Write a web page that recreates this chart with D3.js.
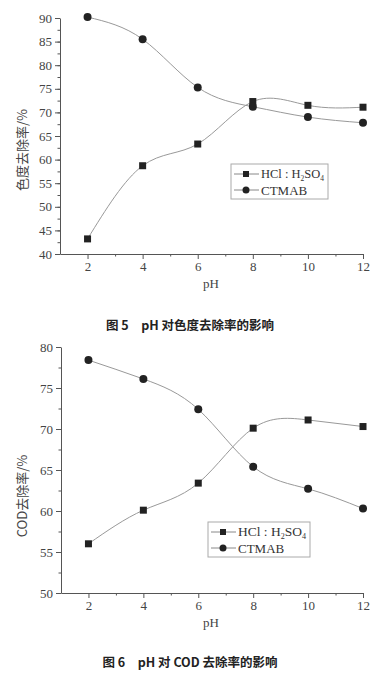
<!DOCTYPE html>
<html>
<head>
<meta charset="utf-8">
<script src="https://cdn.jsdelivr.net/npm/d3@7"></script>
<style>
	body { margin: 0; background: #fff; }
	svg { display: block; }
	.domain, .tick line { stroke: #555; }
</style>
</head>
<body>
<svg id="chart" width="388" height="677"></svg>
<script>
// values
const phValues = [2, 4, 6, 8, 10, 12];
const colorHcl = [43.2, 58.7, 63.3, 72.3, 71.5, 71.1];
const colorCtmab = [90.2, 85.5, 75.3, 71.2, 69.0, 67.8];
const codHcl = [56.0, 60.1, 63.4, 70.1, 71.1, 70.3];
const codCtmab = [78.4, 76.1, 72.4, 65.4, 62.7, 60.3];
const xTicks = [2, 4, 6, 8, 10, 12];
const colorTicks = [40, 45, 50, 55, 60, 65, 70, 75, 80, 85, 90];
const codTicks = [50, 55, 60, 65, 70, 75, 80];

const svg = d3.select("#chart");
const serif = '"Liberation Serif", serif';
const cjk = '"Noto Sans CJK SC", sans-serif';

/////////////////////////////////////////////////////////
/////////////////-----PANEL-----/////////////////////////
/////////////////////////////////////////////////////////
function styleTicks(sel) {
	sel.attr('font-family', serif).attr('font-size', 13);
	sel.selectAll('text').attr('fill', '#444');
}

function drawPanel(p) {
	let g = svg.append('g');
	let x = d3.scaleLinear().domain([1, 12]).range([p.left, 363]);
	let y = d3.scaleLinear().domain(p.yDomain).range([p.bottom, p.top]);

	// minor ticks
	let minorY = d3.range(p.yDomain[0], p.yDomain[1], 2.5);
	g.append('g').attr('transform', 'translate(' + p.left + ',0)')
	.call(d3.axisLeft(y).tickValues(minorY).tickSize(2.5).tickFormat(''))
	.select('.domain').remove();
	g.append('g').attr('transform', 'translate(0,' + p.bottom + ')')
	.call(d3.axisBottom(x).tickValues([3, 5, 7, 9, 11]).tickSize(2.5).tickFormat(''))
	.select('.domain').remove();

	g.append('g').attr('transform', 'translate(' + p.left + ',0)')
	.call(d3.axisLeft(y).tickValues(p.yTicks).tickSize(5).tickSizeOuter(0).tickPadding(3))
	.call(styleTicks);
	g.append('g').attr('transform', 'translate(0,' + p.bottom + ')')
	.call(d3.axisBottom(x).tickValues(xTicks).tickSize(5).tickSizeOuter(0).tickPadding(3))
	.call(styleTicks);

	g.append('text').attr('x', 211).attr('y', p.bottom + 34)
	.attr('text-anchor', 'middle').attr('font-family', serif).attr('font-size', 13)
	.attr('fill', '#444').text('pH');

	g.append('text').attr('transform', 'translate(27,' + p.titleY + ') rotate(-90)')
	.attr('text-anchor', 'middle').attr('font-family', cjk).attr('font-size', 13)
	.attr('fill', '#444').text(p.yTitle);

	let line = d3.line().curve(d3.curveNatural)
	.x(function(d, i) { return x(phValues[i]) })
	.y(function(d) { return y(d) });

	[p.hcl, p.ctmab].forEach(function(s) {
		g.append('path').attr('d', line(s)).attr('fill', 'none')
		.attr('stroke', '#999').attr('stroke-width', 1);
	});

	g.selectAll('rect.sq').data(p.hcl).enter().append('rect')
	.attr('x', function(d, i) { return x(phValues[i]) - 3.5 })
	.attr('y', function(d) { return y(d) - 3.5 })
	.attr('width', 7).attr('height', 7).attr('fill', '#222');

	g.selectAll('circle.ct').data(p.ctmab).enter().append('circle')
	.attr('cx', function(d, i) { return x(phValues[i]) })
	.attr('cy', function(d) { return y(d) })
	.attr('r', 4).attr('fill', '#222');

	// legend
	let L = p.legend;
	g.append('rect').attr('x', L.x).attr('y', L.y).attr('width', L.w).attr('height', 35)
	.attr('fill', 'none').attr('stroke', '#aaa').attr('stroke-width', 1);
	let rows = [{ y: L.y + 10, sym: 'sq' }, { y: L.y + 26, sym: 'ct' }];
	rows.forEach(function(r) {
		g.append('line').attr('x1', L.x + 3).attr('x2', L.x + 28).attr('y1', r.y).attr('y2', r.y)
		.attr('stroke', '#888');
		if (r.sym == 'sq') {
			g.append('rect').attr('x', L.x + 12).attr('y', r.y - 3).attr('width', 6).attr('height', 6).attr('fill', '#222');
		} else {
			g.append('circle').attr('cx', L.x + 15).attr('cy', r.y).attr('r', 3.5).attr('fill', '#222');
		}
	});
	let t1 = g.append('text').attr('x', L.x + 30).attr('y', rows[0].y + 4)
	.attr('font-family', serif).attr('font-size', 12.5).attr('fill', '#333')
	.attr('textLength', L.w - 34).attr('lengthAdjust', 'spacingAndGlyphs');
	t1.append('tspan').text('HCl : H');
	t1.append('tspan').attr('font-size', 7.5).attr('dy', 2.5).text('2');
	t1.append('tspan').attr('dy', -2.5).text('SO');
	t1.append('tspan').attr('font-size', 7.5).attr('dy', 2.5).text('4');
	g.append('text').attr('x', L.x + 30).attr('y', rows[1].y + 4.5)
	.attr('font-family', serif).attr('font-size', 13).attr('fill', '#333').text('CTMAB');

	svg.append('text').attr('x', 190).attr('y', p.captionY)
	.attr('text-anchor', 'middle').attr('font-family', cjk).attr('font-size', 12.5)
	.attr('font-weight', 'bold').attr('fill', '#222').text(p.caption);
}

drawPanel({
	left: 60, top: 18, bottom: 254, yDomain: [40, 90], yTicks: colorTicks,
	hcl: colorHcl, ctmab: colorCtmab, yTitle: '色度去除率/%', titleY: 150,
	legend: { x: 231, y: 164, w: 97 },
	caption: '图 5　pH 对色度去除率的影响', captionY: 330
});

drawPanel({
	left: 61, top: 347, bottom: 593, yDomain: [50, 80], yTicks: codTicks,
	hcl: codHcl, ctmab: codCtmab, yTitle: 'COD去除率/%', titleY: 496,
	legend: { x: 208, y: 522, w: 102 },
	caption: '图 6　pH 对 COD 去除率的影响', captionY: 667
});
</script>
</body>
</html>
